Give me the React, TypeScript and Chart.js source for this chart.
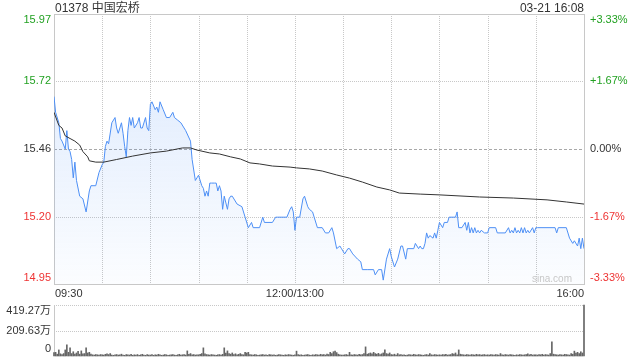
import React, { useEffect, useRef } from "react";
import { Chart, registerables } from "chart.js";

Chart.register(...registerables);

// ---------- data ----------
const stockTitle = "01378 中国宏桥";
const stampText = "03-21 16:08";
const watermark = "sina.com";

const prevClose = 15.46;
const pctTickValues = [-3.33, -1.67, 0, 1.67, 3.33];
const priceTickLabels = ["14.95", "15.20", "15.46", "15.72", "15.97"];
const pctTickLabels = ["-3.33%", "-1.67%", "0.00%", "+1.67%", "+3.33%"];

const timeTickMinutes = [0, 150, 330];
const timeTickLabels = ["09:30", "12:00/13:00", "16:00"];
const gridMinutes = [30, 60, 90, 120, 150, 180, 210, 240, 270, 300];

const priceMinutes = [
  0, 1, 3, 4, 5, 7, 8, 9, 10, 11, 12, 13, 14, 16, 18, 20, 22, 23, 26, 28,
  30, 31, 32, 33, 34, 36, 38, 39, 40, 42, 43, 44, 45, 46, 47, 48, 49, 50, 52, 53,
  54, 55, 57, 58, 59, 60, 61, 63, 64, 65, 66, 68, 70, 72, 74, 75, 77, 79, 82, 85,
  86, 88, 89, 90, 92, 93, 94, 95, 96, 97, 98, 100, 101, 102, 103, 104, 105, 106, 108, 109,
  110, 111, 114, 117, 119, 121, 123, 124, 128, 130, 131, 136, 138, 139, 145, 147, 148, 149, 150, 151,
  153, 155, 156, 158, 159, 161, 162, 164, 167, 169, 171, 173, 174, 176, 178, 179, 181, 183, 184, 186,
  189, 191, 192, 195, 199, 200, 202, 204, 205, 207, 209, 210, 212, 214, 216, 217, 219, 220, 224, 225,
  227, 228, 229, 230, 231, 232, 233, 234, 236, 237, 238, 239, 240, 242, 243, 245, 246, 250, 251, 252,
  254, 256, 257, 258, 259, 260, 261, 262, 263, 264, 265, 266, 268, 270, 271, 275, 276, 281, 283, 284,
  285, 286, 287, 288, 289, 290, 291, 292, 293, 294, 295, 296, 298, 299, 300, 301, 312, 313, 314, 319,
  321, 323, 324, 326, 327, 328, 329, 330,
];
const priceValues = [
  15.66, 15.6, 15.56, 15.5, 15.49, 15.46, 15.53, 15.46, 15.45, 15.42, 15.35, 15.41, 15.34, 15.28, 15.27, 15.22, 15.3, 15.32, 15.32, 15.37,
  15.4, 15.41, 15.47, 15.49, 15.48, 15.56, 15.58, 15.54, 15.52, 15.56, 15.52, 15.47, 15.43, 15.53, 15.58, 15.55, 15.58, 15.54, 15.56, 15.58,
  15.54, 15.54, 15.58, 15.54, 15.53, 15.63, 15.64, 15.61, 15.62, 15.6, 15.64, 15.61, 15.58, 15.58, 15.6, 15.58, 15.57, 15.56, 15.53, 15.49,
  15.42, 15.34, 15.35, 15.36, 15.32, 15.31, 15.28, 15.3, 15.28, 15.33, 15.33, 15.33, 15.33, 15.3, 15.32, 15.3, 15.23, 15.28, 15.23, 15.27,
  15.28, 15.28, 15.25, 15.24, 15.2, 15.16, 15.18, 15.16, 15.16, 15.2, 15.18, 15.18, 15.2, 15.2, 15.2, 15.23, 15.24, 15.22, 15.15, 15.2,
  15.2, 15.27, 15.28, 15.24, 15.23, 15.22, 15.2, 15.16, 15.16, 15.14, 15.14, 15.16, 15.14, 15.08, 15.09, 15.08, 15.06, 15.08, 15.08, 15.06,
  15.04, 15.03, 15.0, 15.0, 15.0, 14.98, 15.0, 15.0, 14.96, 15.04, 15.08, 15.05, 15.01, 15.04, 15.09, 15.09, 15.04, 15.08, 15.08, 15.1,
  15.08, 15.09, 15.08, 15.08, 15.1, 15.14, 15.12, 15.13, 15.12, 15.14, 15.12, 15.15, 15.18, 15.16, 15.18, 15.18, 15.2, 15.2, 15.22, 15.16,
  15.16, 15.18, 15.15, 15.18, 15.14, 15.16, 15.14, 15.16, 15.14, 15.15, 15.14, 15.15, 15.14, 15.14, 15.16, 15.16, 15.14, 15.14, 15.16, 15.14,
  15.15, 15.14, 15.16, 15.14, 15.15, 15.14, 15.16, 15.14, 15.16, 15.14, 15.15, 15.14, 15.16, 15.14, 15.16, 15.16, 15.16, 15.14, 15.16, 15.16,
  15.12, 15.1, 15.11, 15.09, 15.12, 15.08, 15.12, 15.08,
];

const avgMinutes = [
  0, 3, 5, 7, 10, 13, 16, 18, 21, 22, 26, 31, 39, 49, 60, 70, 80, 85, 89, 97,
  103, 110, 116, 122, 128, 136, 147, 151, 159, 167, 176, 184, 192, 201, 209, 215, 228, 240, 265, 286,
  307, 319, 330,
];
const avgValues = [
  15.6, 15.55, 15.54, 15.51, 15.5, 15.49, 15.475, 15.45, 15.43, 15.415, 15.41, 15.41, 15.42, 15.433, 15.445, 15.452, 15.464, 15.464, 15.456, 15.445,
  15.441, 15.43, 15.422, 15.407, 15.403, 15.395, 15.391, 15.388, 15.384, 15.376, 15.361, 15.349, 15.334, 15.315, 15.304, 15.292, 15.288, 15.285, 15.277, 15.273,
  15.266, 15.258, 15.25,
];

// volume per minute, in 万 (m0 .. m330)
const volumeValues = [
  28, 30, 15, 50, 18, 12, 20, 50, 92, 30, 67, 20, 35, 15, 25, 38, 15, 42, 18, 20, 67, 25, 30, 15, 10, 8, 12, 10, 8, 12,
  10, 8, 14, 18, 12, 20, 8, 6, 10, 12, 8, 10, 15, 8, 6, 12, 10, 8, 14, 6, 10, 8, 12, 6, 10, 14, 8, 6, 12, 8,
  8, 12, 6, 10, 8, 14, 10, 6, 8, 12, 10, 6, 8, 10, 12, 8, 6, 10, 14, 8, 10, 12, 8, 42, 14, 20, 10, 12, 8, 10,
  10, 14, 20, 67, 18, 12, 10, 8, 12, 10, 8, 6, 10, 12, 8, 14, 67, 25, 42, 20, 15, 25, 12, 18, 10, 14, 20, 12, 10, 30,
  25, 30, 12, 10, 8, 12, 10, 6, 8, 10, 12, 8, 10, 6, 12, 10, 8, 10, 6, 8, 12, 10, 8, 6, 10, 8, 12, 10, 8, 6,
  10, 40, 12, 8, 10, 6, 8, 10, 12, 8, 6, 10, 8, 12, 10, 8, 14, 10, 12, 8, 15, 12, 30, 20, 35, 40, 28, 15, 10, 8,
  8, 10, 12, 8, 30, 10, 8, 12, 10, 8, 14, 10, 12, 20, 75, 15, 20, 25, 18, 30, 20, 15, 22, 12, 18, 25, 50, 20, 15, 25,
  12, 10, 15, 8, 20, 10, 12, 8, 10, 6, 8, 12, 10, 8, 14, 10, 8, 12, 10, 8, 6, 10, 12, 8, 20, 10, 8, 12, 10, 8,
  10, 8, 12, 10, 14, 8, 10, 12, 20, 15, 25, 10, 50, 15, 12, 10, 8, 12, 10, 8, 12, 10, 8, 14, 10, 12, 8, 10, 12, 8,
  10, 8, 12, 10, 8, 12, 10, 8, 20, 10, 8, 12, 10, 8, 12, 10, 8, 6, 10, 8, 12, 10, 8, 10, 12, 18, 10, 14, 8, 10,
  10, 8, 12, 10, 14, 8, 12, 10, 8, 20, 117, 15, 12, 10, 8, 12, 10, 8, 14, 12, 10, 8, 20, 15, 40, 25, 30, 20, 35, 25,
  419.27,
];
const volTickValues = [0, 209.63, 419.27];
const volTickLabels = ["0", "209.63万", "419.27万"];

// ---------- styles ----------
const FONT_FAMILY = '"Liberation Sans", Arial, "Noto Sans CJK SC", sans-serif';
const GREEN = "#22a122";
const RED = "#ee3333";
const TEXT = "#333333";
const GRID = "#c8c8c8";
const LINE_BLUE = "#4d8ff5";

const crisp = (v: number) => Math.round(v) + 0.5;

const pricePlugin = {
  id: "priceDecor",
  beforeDatasetsDraw(chart: any) {
    const { ctx, chartArea: a, scales } = chart;
    const x = scales.x;
    const y = scales.y;
    ctx.save();
    ctx.lineWidth = 1;
    // horizontal grid
    pctTickValues.forEach((p) => {
      const py = crisp(y.getPixelForValue(prevClose * (1 + p / 100)));
      if (p === pctTickValues[0] || p === pctTickValues[pctTickValues.length - 1]) return;
      ctx.beginPath();
      if (p === 0) {
        ctx.setLineDash([3, 2]);
        ctx.strokeStyle = "#a8a8a8";
      } else {
        ctx.setLineDash([1, 1]);
        ctx.strokeStyle = GRID;
      }
      ctx.moveTo(a.left, py);
      ctx.lineTo(a.right, py);
      ctx.stroke();
    });
    // vertical grid
    ctx.setLineDash([1, 1]);
    ctx.strokeStyle = GRID;
    gridMinutes.forEach((m) => {
      const px = crisp(x.getPixelForValue(m));
      ctx.beginPath();
      ctx.moveTo(px, a.top);
      ctx.lineTo(px, a.bottom);
      ctx.stroke();
    });
    // box
    ctx.setLineDash([]);
    ctx.strokeStyle = GRID;
    const l = crisp(a.left), r = crisp(a.right), t = crisp(a.top), b = crisp(a.bottom);
    ctx.strokeRect(l, t, r - l, b - t);
    ctx.restore();
  },
  afterDraw(chart: any) {
    const { ctx, chartArea: a, scales } = chart;
    const x = scales.x;
    const y = scales.y;
    ctx.save();
    // title
    ctx.font = `12px ${FONT_FAMILY}`;
    ctx.fillStyle = TEXT;
    ctx.textBaseline = "alphabetic";
    ctx.textAlign = "left";
    ctx.fillText(stockTitle, a.left + 1, 12);
    ctx.textAlign = "right";
    ctx.fillText(stampText, a.right, 12);
    // y labels
    ctx.font = `11px ${FONT_FAMILY}`;
    ctx.textBaseline = "middle";
    const n = pctTickValues.length;
    pctTickValues.forEach((p, i) => {
      let py = y.getPixelForValue(prevClose * (1 + p / 100));
      if (i === 0) py -= 6;
      if (i === n - 1) py += 6;
      ctx.fillStyle = p > 0 ? GREEN : p < 0 ? RED : TEXT;
      ctx.textAlign = "right";
      ctx.fillText(priceTickLabels[i], a.left - 3, py);
      ctx.textAlign = "left";
      ctx.fillText(pctTickLabels[i], a.right + 6, py);
    });
    // x labels
    ctx.fillStyle = TEXT;
    ctx.textBaseline = "alphabetic";
    timeTickMinutes.forEach((m, i) => {
      const px = x.getPixelForValue(m);
      ctx.textAlign = i === 0 ? "left" : i === timeTickMinutes.length - 1 ? "right" : "center";
      ctx.fillText(timeTickLabels[i], i === 0 ? px + 1 : px, a.bottom + 13);
    });
    // watermark
    ctx.font = `10px ${FONT_FAMILY}`;
    ctx.fillStyle = "#c8c8c8";
    ctx.textAlign = "left";
    ctx.fillText(watermark, 532, a.bottom - 2);
    ctx.restore();
  },
};

const volumePlugin = {
  id: "volDecor",
  beforeDatasetsDraw(chart: any) {
    const { ctx, chartArea: a, scales } = chart;
    const y = scales.y;
    ctx.save();
    ctx.lineWidth = 1;
    ctx.strokeStyle = GRID;
    ctx.setLineDash([1, 1]);
    volTickValues.forEach((v) => {
      if (v === 0) return;
      const py = crisp(y.getPixelForValue(v));
      ctx.beginPath();
      ctx.moveTo(a.left, py);
      ctx.lineTo(a.right, py);
      ctx.stroke();
    });
    ctx.setLineDash([]);
    ctx.beginPath();
    ctx.moveTo(crisp(a.left), a.top);
    ctx.lineTo(crisp(a.left), a.bottom);
    ctx.stroke();
    ctx.restore();
  },
  afterDraw(chart: any) {
    const { ctx, chartArea: a, scales } = chart;
    const y = scales.y;
    ctx.save();
    ctx.font = `11px ${FONT_FAMILY}`;
    ctx.fillStyle = TEXT;
    ctx.textAlign = "right";
    ctx.textBaseline = "middle";
    const n = volTickValues.length;
    volTickValues.forEach((v, i) => {
      let py = y.getPixelForValue(v);
      if (i === 0) py -= 7;
      if (i === n - 1) py += 6;
      ctx.fillText(volTickLabels[i], a.left - 3, py);
    });
    ctx.restore();
  },
};

export default function App() {
  const priceRef = useRef<HTMLCanvasElement>(null);
  const volRef = useRef<HTMLCanvasElement>(null);

  useEffect(() => {
    if (!priceRef.current || !volRef.current) return;
    const yMin = prevClose * (1 + pctTickValues[0] / 100);
    const yMax = prevClose * (1 + pctTickValues[pctTickValues.length - 1] / 100);

    const priceChart = new Chart(priceRef.current, {
      type: "line",
      data: {
        datasets: [
          {
            label: "avg",
            data: avgMinutes.map((m, i) => ({ x: m, y: avgValues[i] })),
            borderColor: "#333333",
            borderWidth: 1,
            pointRadius: 0,
            tension: 0,
            fill: false,
            order: 0,
          },
          {
            label: "price",
            data: priceMinutes.map((m, i) => ({ x: m, y: priceValues[i] })),
            borderColor: LINE_BLUE,
            borderWidth: 1,
            pointRadius: 0,
            tension: 0,
            fill: "start",
            order: 1,
            backgroundColor: (ctx: any) => {
              const { chart } = ctx;
              const area = chart.chartArea;
              if (!area) return "rgba(77,143,245,0.1)";
              const g = chart.ctx.createLinearGradient(0, area.top, 0, area.bottom);
              g.addColorStop(0, "rgba(77,143,245,0.21)");
              g.addColorStop(1, "rgba(77,143,245,0.02)");
              return g;
            },
          },
        ],
      },
      options: {
        responsive: false,
        animation: false,
        events: [],
        layout: { padding: { left: 54, right: 56, top: 14, bottom: 16 } },
        plugins: { legend: { display: false }, tooltip: { enabled: false } },
        scales: {
          x: { type: "linear", display: false, min: 0, max: 330 },
          y: { type: "linear", display: false, min: yMin, max: yMax },
        },
      },
      plugins: [pricePlugin],
    } as any);

    const volChart = new Chart(volRef.current, {
      type: "bar",
      data: {
        labels: volumeValues.map((_, i) => String(i)),
        datasets: [
          {
            data: volumeValues,
            backgroundColor: "#666666",
            barThickness: 1,
            clip: false,
          },
        ],
      },
      options: {
        responsive: false,
        animation: false,
        events: [],
        layout: { padding: { left: 54, right: 56, top: 5, bottom: 4 } },
        plugins: { legend: { display: false }, tooltip: { enabled: false } },
        scales: {
          x: { type: "category", display: false, offset: false },
          y: { type: "linear", display: false, min: 0, max: volTickValues[volTickValues.length - 1] },
        },
      },
      plugins: [volumePlugin],
    } as any);

    return () => {
      priceChart.destroy();
      volChart.destroy();
    };
  }, []);

  return (
    <div style={{ position: "absolute", left: 0, top: 0, width: 640, height: 360, background: "#ffffff" }}>
      <canvas ref={priceRef} width={640} height={300} style={{ position: "absolute", left: 0, top: 0 }} />
      <canvas ref={volRef} width={640} height={60} style={{ position: "absolute", left: 0, top: 300 }} />
    </div>
  );
}
